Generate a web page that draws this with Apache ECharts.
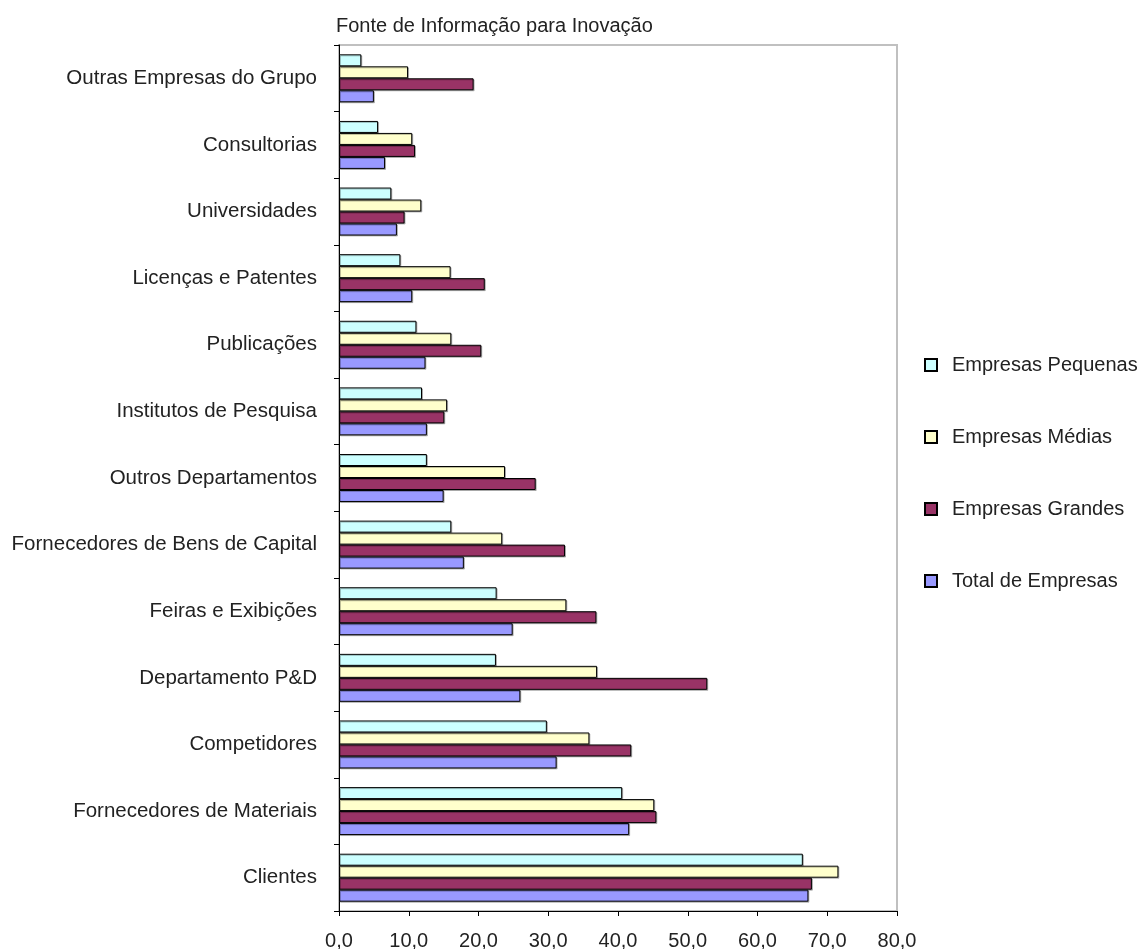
<!DOCTYPE html>
<html>
<head>
<meta charset="utf-8">
<script src="https://cdn.jsdelivr.net/npm/echarts@6/dist/echarts.min.js"></script>
<style>
  html, body { margin: 0; padding: 0; background: #fff; }
  #chart { width: 1145px; height: 949px; }
</style>
</head>
<body>
<div id="chart"></div>
<script>
// Information sources for innovation, share of firms (%) by firm size
const categories = [
  'Clientes',
  'Fornecedores de Materiais',
  'Competidores',
  'Departamento P&D',
  'Feiras e Exibições',
  'Fornecedores de Bens de Capital',
  'Outros Departamentos',
  'Institutos de Pesquisa',
  'Publicações',
  'Licenças e Patentes',
  'Universidades',
  'Consultorias',
  'Outras Empresas do Grupo'
];

const seriesNames = ['Empresas Pequenas', 'Empresas Médias', 'Empresas Grandes', 'Total de Empresas'];

const pequenas = [66.5, 40.6, 29.8, 22.5, 22.6, 16.1, 12.6, 11.9, 11.1, 8.8, 7.5, 5.6, 3.2];
const medias   = [71.6, 45.2, 35.9, 37.0, 32.6, 23.4, 23.8, 15.5, 16.1, 16.0, 11.8, 10.5, 9.9];
const grandes  = [67.8, 45.5, 41.9, 52.8, 36.9, 32.4, 28.2, 15.1, 20.4, 20.9, 9.4, 10.9, 19.3];
const total    = [67.3, 41.6, 31.2, 26.0, 24.9, 17.9, 15.0, 12.6, 12.4, 10.5, 8.3, 6.6, 5.0];

const xTicks = { min: 0, max: 80, interval: 10 };

const colors = ['#CCFFFF', '#FFFFCC', '#993366', '#9999FF'];
const values = [pequenas, medias, grandes, total];

const font = 'Liberation Sans, Arial, sans-serif';
const textColor = '#222';

const chart = echarts.init(document.getElementById('chart'));

chart.setOption({
  animation: false,
  backgroundColor: '#ffffff',
  title: {
    text: 'Fonte de Informação para Inovação',
    left: 331,
    top: 11,
    textStyle: { fontFamily: font, fontSize: 20, fontWeight: 'normal', color: textColor }
  },
  legend: {
    orient: 'vertical',
    left: 919,
    top: 350,
    itemWidth: 12,
    itemHeight: 12,
    itemGap: 52,
    icon: 'rect',
    textStyle: { fontFamily: font, fontSize: 20, color: textColor, padding: [0, 0, 0, 10] },
    itemStyle: { borderColor: '#000', borderWidth: 2 },
    data: seriesNames
  },
  grid: {
    left: 339,
    top: 45,
    right: 248,
    bottom: 38,
    outerBoundsMode: 'none',
    show: true,
    borderColor: '#c0c0c0',
    borderWidth: 2,
    backgroundColor: 'transparent'
  },
  xAxis: {
    type: 'value',
    min: xTicks.min,
    max: xTicks.max,
    interval: xTicks.interval,
    splitLine: { show: false },
    axisLine: { show: true, lineStyle: { color: '#000', width: 1 } },
    axisTick: { show: true, length: 5, lineStyle: { color: '#000' } },
    axisLabel: {
      fontFamily: font,
      fontSize: 20,
      color: textColor,
      margin: 20,
      formatter: v => v.toFixed(1).replace('.', ',')
    }
  },
  yAxis: {
    type: 'category',
    data: categories,
    axisLine: { show: true, lineStyle: { color: '#000', width: 1 } },
    axisTick: { show: true, length: 5, lineStyle: { color: '#000' } },
    axisLabel: { fontFamily: font, fontSize: 20.5, color: textColor, margin: 22 }
  },
  series: seriesNames.map((name, i) => ({
    name,
    type: 'bar',
    data: values[i],
    barGap: '0%',
    barCategoryGap: '28%',
    itemStyle: {
      color: colors[i],
      borderColor: '#000',
      borderWidth: 1,
      shadowColor: 'rgba(0,0,0,0.25)',
      shadowOffsetX: 1,
      shadowOffsetY: 1,
      shadowBlur: 0
    }
  }))
});
</script>
</body>
</html>
